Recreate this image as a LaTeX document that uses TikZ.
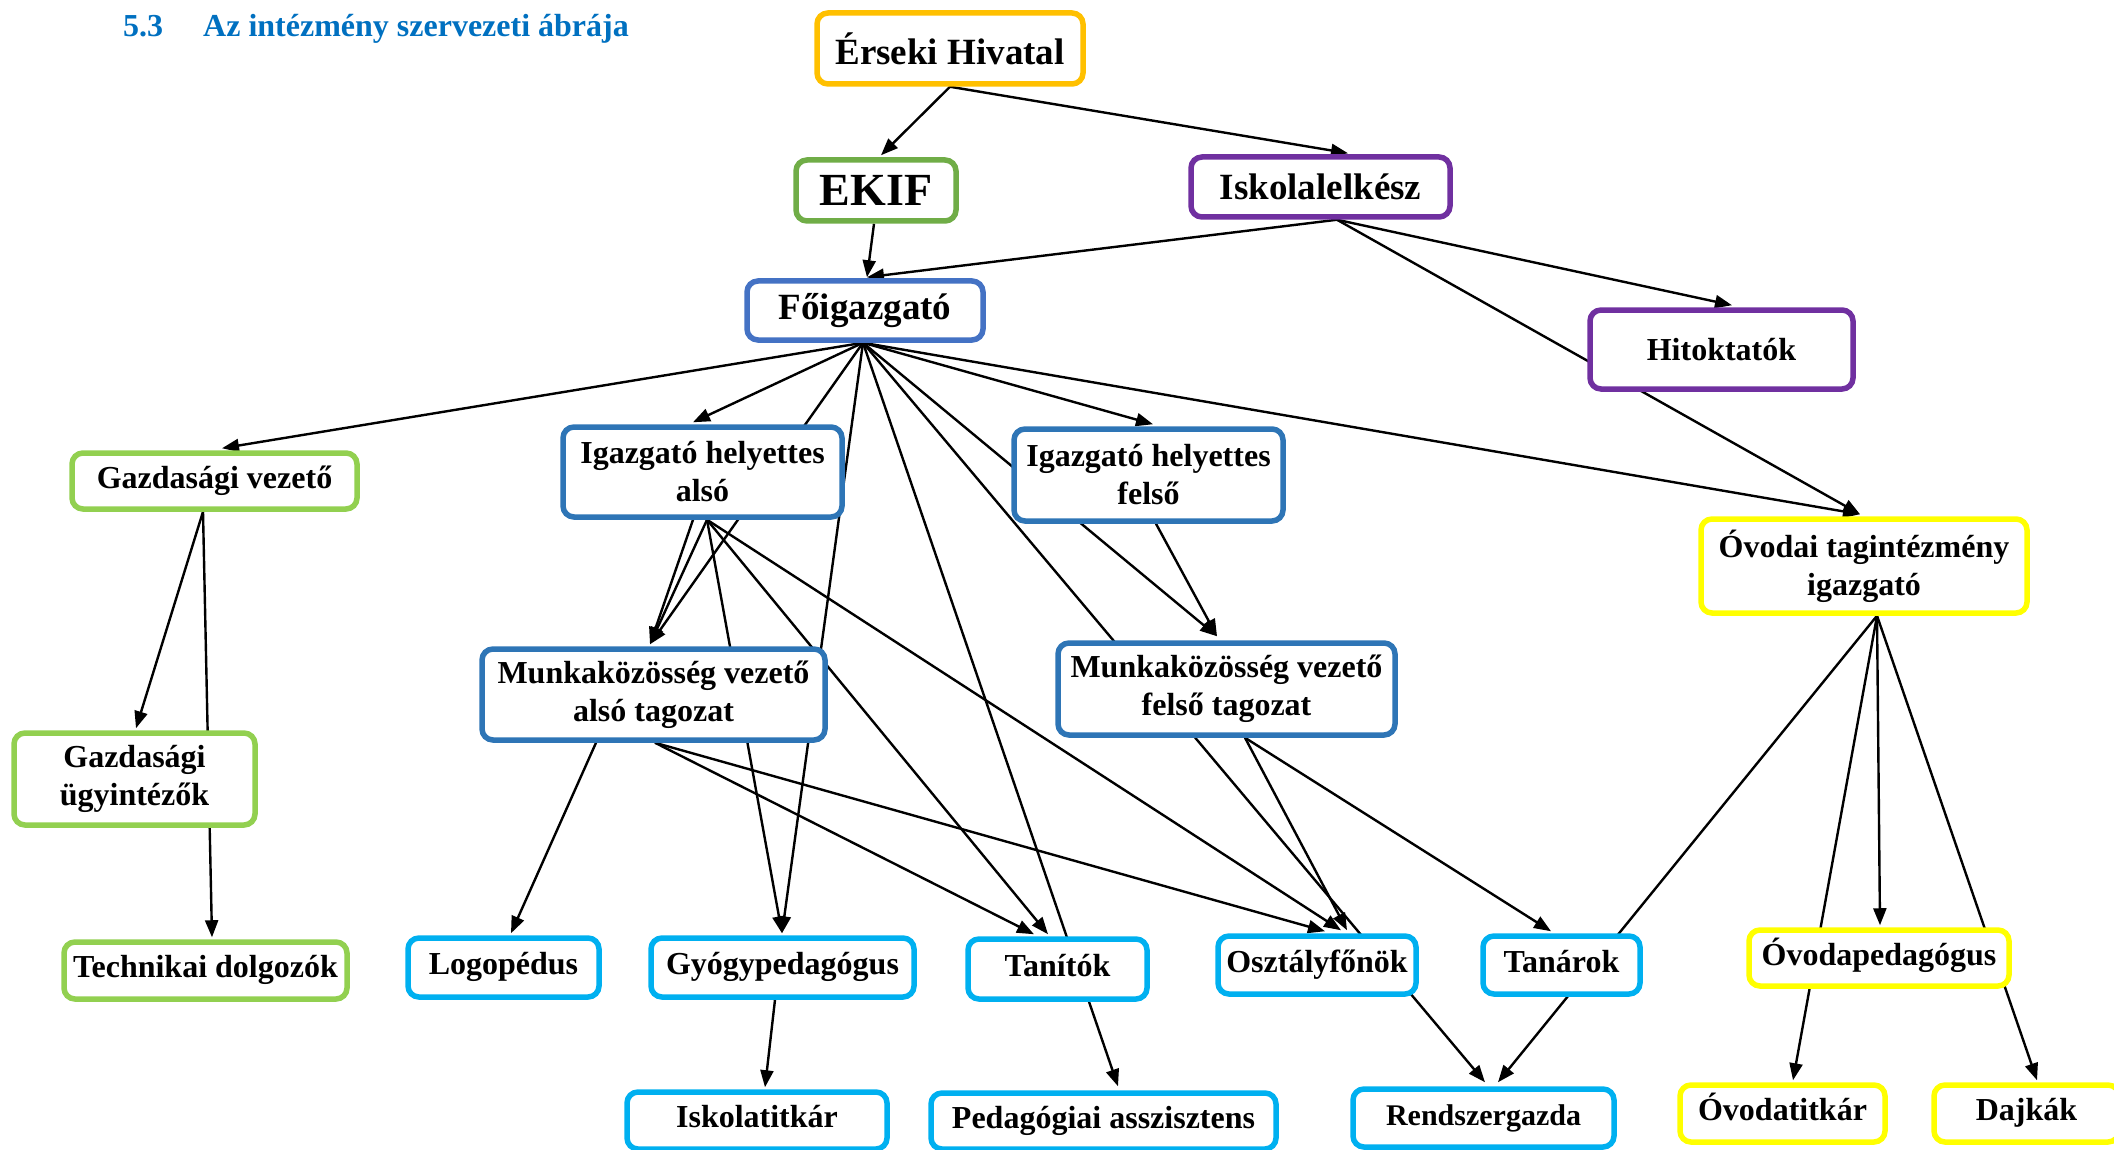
\documentclass[tikz,border=0pt]{standalone}
\usepackage{fontspec}
\setmainfont{Liberation Serif}
\usetikzlibrary{arrows.meta,backgrounds}
\definecolor{cOrange}{RGB}{255,192,0}
\definecolor{cGreen}{RGB}{112,173,71}
\definecolor{cPurple}{RGB}{112,48,160}
\definecolor{cFoig}{RGB}{68,114,196}
\definecolor{cLgreen}{RGB}{146,208,80}
\definecolor{cBlue}{RGB}{46,117,182}
\definecolor{cCyan}{RGB}{0,176,240}
\definecolor{cYellow}{RGB}{255,255,0}
\definecolor{cTitle}{RGB}{0,112,192}
\begin{document}
\begin{tikzpicture}[x=1pt,y=-1pt,
  box/.style={draw, fill=white, line width=5.5pt, rounded corners=11pt, inner sep=0pt,
    align=center, font=\bfseries\fontsize{32}{38}\selectfont, text=black},
  oneline/.style={text height=22pt, text depth=8pt},
  bigtext/.style={font=\bfseries\fontsize{37}{44}\selectfont},
  hugetext/.style={font=\bfseries\fontsize{46}{55}\selectfont},
  titletext/.style={inner sep=0pt, anchor=base west, text=cTitle, font=\bfseries\fontsize{32}{38}\selectfont},
  arr/.style={line width=2.4pt, -{Triangle[length=17pt,width=13pt]}}
]
\useasboundingbox (0,0) rectangle (2114,1150);

% title
\node[titletext] (tnum) at (123,37) {5.3};
\node[titletext] (ttxt) at (203,37) {Az intézmény szervezeti ábrája};

% boxes
\node[box, bigtext, draw=cOrange, minimum width=266pt, minimum height=71pt] (erseki) at (950,48.5) {Érseki Hivatal};
\node[box, hugetext, draw=cGreen, minimum width=160pt, minimum height=61pt] (ekif) at (876,190.5) {EKIF};
\node[box, bigtext, draw=cPurple, minimum width=259pt, minimum height=60pt] (iskola) at (1320.5,187) {Iskolalelkész};
\node[box, bigtext, draw=cFoig, minimum width=236pt, minimum height=59pt] (foig) at (865,310.5) {Főigazgató};
\node[box, draw=cPurple, text height=26pt, text depth=4pt, minimum width=263pt, minimum height=79pt] (hitok) at (1721.5,349.5) {Hitoktatók};
\node[box, oneline, draw=cLgreen, minimum width=285pt, minimum height=56pt] (gazdv) at (214.5,481) {Gazdasági vezető};
\node[box, draw=cBlue, minimum width=279pt, minimum height=90pt] (iha) at (702.5,472) {Igazgató helyettes\\alsó};
\node[box, draw=cBlue, minimum width=269pt, minimum height=92pt] (ihf) at (1148.5,475) {Igazgató helyettes\\felső};
\node[box, draw=cYellow, minimum width=326pt, minimum height=94pt] (ovodai) at (1864,566) {Óvodai tagintézmény\\igazgató};
\node[box, draw=cBlue, minimum width=343pt, minimum height=91pt] (mka) at (653.5,694.5) {Munkaközösség vezető\\alsó tagozat};
\node[box, draw=cBlue, minimum width=337pt, minimum height=92pt] (mkf) at (1226.5,689) {Munkaközösség vezető\\felső tagozat};
\node[box, draw=cLgreen, minimum width=241pt, minimum height=92pt] (gazdu) at (134.5,779) {Gazdasági\\ügyintézők};
\node[box, oneline, draw=cLgreen, minimum width=283pt, minimum height=57pt] (techn) at (205.5,970.5) {Technikai dolgozók};
\node[box, oneline, draw=cCyan, minimum width=191pt, minimum height=59pt] (logo) at (503.5,967.5) {Logopédus};
\node[box, oneline, draw=cCyan, minimum width=263pt, minimum height=59pt] (gyogy) at (782.5,967.5) {Gyógypedagógus};
\node[box, oneline, draw=cCyan, minimum width=179pt, minimum height=60pt] (tanitok) at (1057.5,969) {Tanítók};
\node[box, oneline, draw=cCyan, minimum width=198pt, minimum height=58pt] (osztf) at (1317,965) {Osztályfőnök};
\node[box, oneline, draw=cCyan, minimum width=157pt, minimum height=58pt] (tanarok) at (1561.5,965) {Tanárok};
\node[box, oneline, draw=cYellow, minimum width=260pt, minimum height=56pt] (ovped) at (1879,958) {Óvodapedagógus};
\node[box, oneline, draw=cCyan, minimum width=260pt, minimum height=57pt] (iskt) at (757,1120.5) {Iskolatitkár};
\node[box, oneline, draw=cCyan, minimum width=345pt, minimum height=56pt] (pedasz) at (1103.5,1121) {Pedagógiai asszisztens};
\node[box, oneline, draw=cCyan, minimum width=261pt, minimum height=58pt, font=\bfseries\fontsize{30}{36}\selectfont] (rendsz) at (1483.5,1118) {Rendszergazda};
\node[box, oneline, draw=cYellow, minimum width=205pt, minimum height=57pt] (ovtit) at (1782.5,1113.5) {Óvodatitkár};
\node[box, oneline, draw=cYellow, minimum width=185pt, minimum height=57pt] (dajkak) at (2026.5,1113.5) {Dajkák};

% connection points
\coordinate (eB) at (erseki.south);
\coordinate (ekB) at ([shift={(-2,0)}]ekif.south);
\coordinate (isB) at ([shift={(16.5,0)}]iskola.south);
\coordinate (fB) at ([shift={(-2,0)}]foig.south);
\coordinate (gvB) at ([shift={(-11.5,0)}]gazdv.south);
\coordinate (iaB) at ([shift={(4.5,0)}]iha.south);
\coordinate (iaB2) at ([shift={(-9.5,0)}]iha.south);
\coordinate (ifB) at ([shift={(7.5,0)}]ihf.south);
\coordinate (maB) at ([shift={(1.5,0)}]mka.south);
\coordinate (maB2) at ([shift={(-57.5,0)}]mka.south);
\coordinate (mfB) at ([shift={(18.5,0)}]mkf.south);
\coordinate (gyB) at ([shift={(-7.5,0)}]gyogy.south);
\coordinate (ovB) at ([shift={(13,0)}]ovodai.south);

\coordinate (ekT) at ([shift={(5,-2)}]ekif.north);
\coordinate (isT) at ([shift={(27.5,-1)}]iskola.north);
\coordinate (fT) at ([shift={(2,-1)}]foig.north);
\coordinate (hiT) at ([shift={(10.5,-2)}]hitok.north);
\coordinate (ovT) at ([shift={(-4,-2)}]ovodai.north);
\coordinate (gvT) at ([shift={(7.5,-2)}]gazdv.north);
\coordinate (iaT) at ([shift={(-9.5,-2)}]iha.north);
\coordinate (ifT) at ([shift={(4.5,-2)}]ihf.north);
\coordinate (maT) at ([shift={(-3.5,-2)}]mka.north);
\coordinate (mfT) at ([shift={(-9.5,-4)}]mkf.north);
\coordinate (guT) at ([shift={(1.5,-2)}]gazdu.north);
\coordinate (teT) at ([shift={(6.5,-2)}]techn.north);
\coordinate (loT) at ([shift={(7.5,-2)}]logo.north);
\coordinate (gyT) at ([shift={(-0.5,-2)}]gyogy.north);
\coordinate (taT1) at ([shift={(-23.5,-2)}]tanitok.north);
\coordinate (taT2) at ([shift={(-9.5,-2)}]tanitok.north);
\coordinate (osT1) at ([shift={(8,-2)}]osztf.north);
\coordinate (osT2) at ([shift={(24,-3)}]osztf.north);
\coordinate (osT3) at ([shift={(30,-3)}]osztf.north);
\coordinate (tnT) at ([shift={(-10.5,-2)}]tanarok.north);
\coordinate (ptT) at ([shift={(14.5,-4)}]pedasz.north);
\coordinate (rsT1) at ([shift={(1.5,-4)}]rendsz.north);
\coordinate (rsT2) at ([shift={(14.5,-4)}]rendsz.north);
\coordinate (itT) at ([shift={(8,-2)}]iskt.north);
\coordinate (otT) at ([shift={(10.5,-2)}]ovtit.north);
\coordinate (opT) at ([shift={(1,-2)}]ovped.north);
\coordinate (djT) at ([shift={(10.5,-2)}]dajkak.north);

\begin{scope}[on background layer]
  \draw[arr] (eB) -- (ekT);
  \draw[arr] (eB) -- (isT);
  \draw[arr] (ekB) -- (fT);
  \draw[arr] (isB) -- (fT);
  \draw[arr] (isB) -- (hiT);
  \draw[arr] (isB) -- (ovT);
  \draw[arr] (fB) -- (gvT);
  \draw[arr] (fB) -- (iaT);
  \draw[arr] (fB) -- (maT);
  \draw[arr] (fB) -- (gyT);
  \draw[arr] (fB) -- (ptT);
  \draw[arr] (fB) -- (rsT1);
  \draw[arr] (fB) -- (mfT);
  \draw[arr] (fB) -- (ifT);
  \draw[arr] (fB) -- (ovT);
  \draw[arr] (gvB) -- (guT);
  \draw[arr] (gvB) -- (teT);
  \draw[arr] (iaB2) -- (maT);
  \draw[arr] (iaB) -- (maT);
  \draw[arr] (iaB) -- (gyT);
  \draw[arr] (iaB) -- (taT2);
  \draw[arr] (iaB) -- (osT2);
  \draw[arr] (ifB) -- (mfT);
  \draw[arr] (maB2) -- (loT);
  \draw[arr] (maB) -- (taT1);
  \draw[arr] (maB) -- (osT1);
  \draw[arr] (mfB) -- (osT3);
  \draw[arr] (mfB) -- (tnT);
  \draw[arr] (gyB) -- (itT);
  \draw[arr] (ovB) -- (rsT2);
  \draw[arr] (ovB) -- (otT);
  \draw[arr] (ovB) -- (opT);
  \draw[arr] (ovB) -- (djT);
\end{scope}
\end{tikzpicture}
\end{document}
